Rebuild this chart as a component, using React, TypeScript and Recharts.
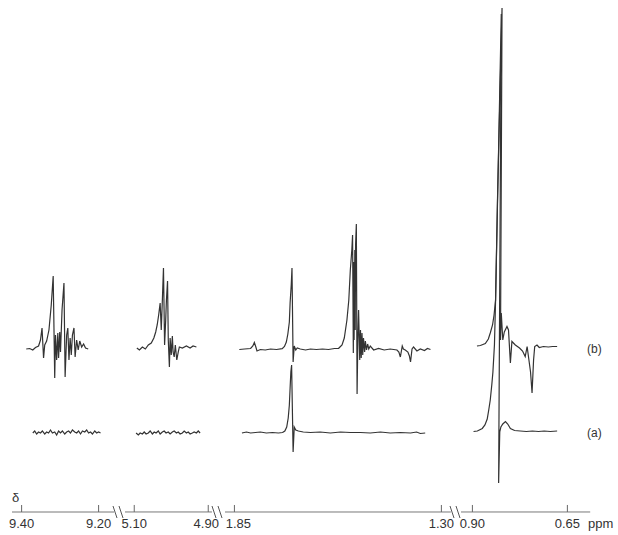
import React from "react";
import { LineChart, Line, XAxis, YAxis } from "recharts";

// [ppm, intensity above own baseline]
const b940: [number, number][] = [
  [9.388, 1], [9.379, 1.5], [9.371, 0], [9.364, 2.5], [9.356, 4], [9.351, 10], [9.347, 22], [9.343, -8],
  [9.34, 5], [9.335, 9], [9.329, 20], [9.323, 45], [9.318, 74], [9.314, -28], [9.312, 15], [9.309, -10],
  [9.306, 17], [9.304, -8], [9.301, 18], [9.299, -2], [9.295, 40], [9.29, 67], [9.287, -27], [9.283, 15],
  [9.28, 22], [9.277, -10], [9.274, 12], [9.271, -5], [9.268, 15], [9.264, 22], [9.261, -7], [9.257, 10],
  [9.253, 0], [9.249, 9], [9.244, 3], [9.239, 6], [9.234, 2], [9.227, 1],
];
const a940: [number, number][] = [
  [9.371, -1], [9.366, 1], [9.361, -2], [9.356, 0], [9.351, -1], [9.346, 1], [9.34, -2], [9.335, 0],
  [9.33, -1], [9.325, 2], [9.32, -1], [9.314, 0], [9.309, -3], [9.304, 1], [9.299, -1], [9.294, 1],
  [9.288, -2], [9.283, 0], [9.278, 1], [9.273, -1], [9.268, 2], [9.262, 0], [9.257, -1], [9.252, 1],
  [9.247, -2], [9.242, 1], [9.236, 0], [9.231, 2], [9.226, -1], [9.221, 0], [9.216, -2], [9.21, 1],
  [9.205, -1], [9.2, 0], [9.195, -1],
];

const b510: [number, number][] = [
  [5.093, 2], [5.086, 0], [5.078, 3], [5.07, 1], [5.062, 5], [5.054, 7], [5.047, 12], [5.042, 18],
  [5.038, 25], [5.034, 35], [5.03, 47], [5.027, 20], [5.024, 50], [5.021, 82], [5.018, 5], [5.015, 30],
  [5.013, 50], [5.01, 69], [5.008, 10], [5.005, -17], [5.003, 12], [5.0, -5], [4.997, 14], [4.995, -2],
  [4.992, -7], [4.989, 5], [4.985, -10], [4.981, -2], [4.978, 3], [4.97, 2], [4.959, 4], [4.949, 2],
  [4.941, 4], [4.932, 3],
];
const a510: [number, number][] = [
  [5.095, -1], [5.089, -3], [5.084, -1], [5.078, -2], [5.073, 0], [5.068, -2], [5.062, -1], [5.057, 1],
  [5.051, -2], [5.046, 0], [5.041, -1], [5.035, 1], [5.03, -2], [5.024, 0], [5.019, 1], [5.014, -1],
  [5.008, 0], [5.003, -2], [4.997, 0], [4.992, 1], [4.986, -1], [4.981, 0], [4.976, -2], [4.97, -1],
  [4.965, 1], [4.959, -1], [4.954, 0], [4.949, -2], [4.943, -1], [4.938, 0], [4.932, -1], [4.927, 1],
  [4.922, -1],
];

const b185: [number, number][] = [
  [1.837, 0.5], [1.823, 1], [1.807, 1.5], [1.801, 4], [1.797, 7.5], [1.793, 3], [1.79, -1], [1.781, 0.5],
  [1.768, 0], [1.754, 1], [1.738, 0.5], [1.723, 1.3], [1.717, 3.5], [1.712, 8], [1.708, 16], [1.704, 28],
  [1.702, 47], [1.699, 65], [1.697, 82], [1.694, -12], [1.691, 4], [1.687, 0], [1.683, 2], [1.675, 1],
  [1.661, 0], [1.648, 1], [1.632, 0.5], [1.616, 1], [1.6, 0.5], [1.584, 1.5], [1.573, 1.7], [1.564, 5],
  [1.558, 12], [1.551, 30], [1.546, 50], [1.542, 80], [1.538, 100], [1.536, 115], [1.534, -3], [1.533, 88],
  [1.532, 10], [1.53, 100], [1.529, 20], [1.528, 105], [1.526, 126], [1.524, -44], [1.522, 10], [1.52, 40],
  [1.517, -10], [1.515, 20], [1.513, -8], [1.511, 17], [1.509, -5], [1.507, 12], [1.504, -2], [1.502, 9],
  [1.499, 0], [1.496, 6], [1.493, 1], [1.489, 4], [1.48, 0], [1.467, 1.5], [1.452, 0], [1.436, 1],
  [1.418, 0], [1.413, -2], [1.409, -7], [1.404, 4], [1.401, 1], [1.396, 0], [1.389, -2], [1.385, -6],
  [1.382, -12], [1.378, 1], [1.374, 3], [1.365, -1], [1.356, 1], [1.345, -0.5], [1.337, 1.5], [1.329, 0.5],
];
const a185: [number, number][] = [
  [1.83, -1], [1.818, 0], [1.807, -1], [1.794, -0.5], [1.781, 0], [1.765, -1], [1.749, -0.5], [1.733, -1],
  [1.722, -0.5], [1.716, 1], [1.711, 5], [1.707, 14], [1.704, 27], [1.702, 44], [1.7, 60], [1.698, 67],
  [1.694, -20], [1.691, 5], [1.687, 2], [1.68, 1], [1.667, 0], [1.648, -0.5], [1.622, 0], [1.595, -1],
  [1.568, 0], [1.542, -0.5], [1.515, -0.5], [1.489, -1], [1.462, 0], [1.436, -1], [1.409, -0.5], [1.382, -1],
  [1.366, 0], [1.356, -1.5], [1.343, -1],
];

const b090: [number, number][] = [
  [0.888, 4], [0.879, 4.5], [0.866, 6.5], [0.858, 11], [0.853, 17], [0.847, 25], [0.843, 35], [0.839, 50],
  [0.834, 150], [0.822, 342], [0.826, 10], [0.824, 37], [0.82, 10], [0.816, 18], [0.809, 23.5], [0.805, 20],
  [0.8, -13], [0.796, 8.5], [0.787, 5], [0.776, 2], [0.768, -1], [0.761, -6.5], [0.756, 3.5], [0.753, -5],
  [0.747, -22], [0.743, -43], [0.739, -10], [0.736, 3.5], [0.73, 5], [0.724, 2.5], [0.713, 3.5], [0.7, 3],
  [0.689, 3.5], [0.677, 3.5],
];
const a090: [number, number][] = [
  [0.897, 0.5], [0.887, 1], [0.874, 3.5], [0.867, 7], [0.861, 13], [0.857, 22], [0.853, 32], [0.849, 47],
  [0.846, 60], [0.842, 87], [0.839, 132], [0.824, 418], [0.831, -51], [0.828, 0], [0.825, 5], [0.82, 8],
  [0.813, 10.5], [0.807, 8], [0.8, 3.5], [0.789, 1.5], [0.774, 1], [0.758, 0.5], [0.742, 1], [0.726, 0.5],
  [0.711, 1], [0.695, 0.5], [0.677, 1],
];

const OFFSET_B = 82;

const segments = [
  { domain: [9.16, 9.425], ticks: [9.4, 9.2], left: 12.4, width: 102, b: b940, a: a940 },
  { domain: [4.89, 5.125], ticks: [5.1, 4.9], left: 124.75, width: 86.95, b: b510, a: a510 },
  { domain: [1.275, 1.875], ticks: [1.85, 1.3], left: 224.6, width: 225.8, b: b185, a: a185 },
  { domain: [0.59, 0.93], ticks: [0.9, 0.65], left: 460.6, width: 129.2, b: b090, a: a090 },
];

const breaks = [115, 121, 214, 220, 452, 458];

const FONT = "'Liberation Sans', Arial, sans-serif";
const INK = "#333";

function Tick(props: any) {
  const { x, y, payload } = props;
  const v = Number(payload.value);
  // nudge labels that sit next to an axis break
  const dx = v === 1.85 ? 4 : v === 4.9 ? -2 : 0;
  return (
    <g>
      <line x1={x} x2={x} y1={y - 7} y2={y} stroke="#666" strokeWidth={1} />
      <text x={x + dx} y={y + 16} textAnchor="middle" fontSize={13} fontFamily={FONT} fill={INK}>
        {v.toFixed(2)}
      </text>
    </g>
  );
}

export default function App() {
  return (
    <div style={{ position: "absolute", left: 0, top: 0, width: 618, height: 535, background: "#fff" }}>
      <style>{`.recharts-surface { overflow: visible; } .recharts-wrapper { overflow: visible; }`}</style>
      {segments.map((s, i) => {
        const bData = s.b.map(([ppm, v]) => ({ ppm, v: v + OFFSET_B }));
        const aData = s.a.map(([ppm, v]) => ({ ppm, v }));
        return (
          <div key={i} style={{ position: "absolute", left: s.left, top: 0 }}>
            <LineChart width={s.width} height={535} margin={{ top: 0, right: 0, bottom: 0, left: 0 }}>
              <XAxis
                type="number"
                dataKey="ppm"
                domain={s.domain}
                reversed
                allowDataOverflow
                ticks={s.ticks}
                interval={0}
                height={23}
                tickSize={0}
                tickMargin={0}
                tickLine={false}
                axisLine={{ stroke: "#777", strokeWidth: 1 }}
                tick={<Tick />}
              />
              <YAxis hide type="number" domain={[-80, 432]} allowDataOverflow />
              <Line data={bData} dataKey="v" type="linear" stroke={INK} strokeWidth={1.2} dot={false} isAnimationActive={false} />
              <Line data={aData} dataKey="v" type="linear" stroke={INK} strokeWidth={1.2} dot={false} isAnimationActive={false} />
            </LineChart>
          </div>
        );
      })}
      <svg width={618} height={535} style={{ position: "absolute", left: 0, top: 0, pointerEvents: "none" }}>
        {breaks.map((bx) => (
          <line key={bx} x1={bx - 2} y1={506} x2={bx + 2} y2={518} stroke="#555" strokeWidth={1} />
        ))}
        <text x={12} y={502} fontSize={13} fontFamily={FONT} fill={INK}>δ</text>
        <text x={588} y={528} fontSize={13} fontFamily={FONT} fill={INK}>ppm</text>
        <text x={587} y={353} fontSize={12} fontFamily={FONT} fill={INK}>(b)</text>
        <text x={587} y={437} fontSize={12} fontFamily={FONT} fill={INK}>(a)</text>
      </svg>
    </div>
  );
}
